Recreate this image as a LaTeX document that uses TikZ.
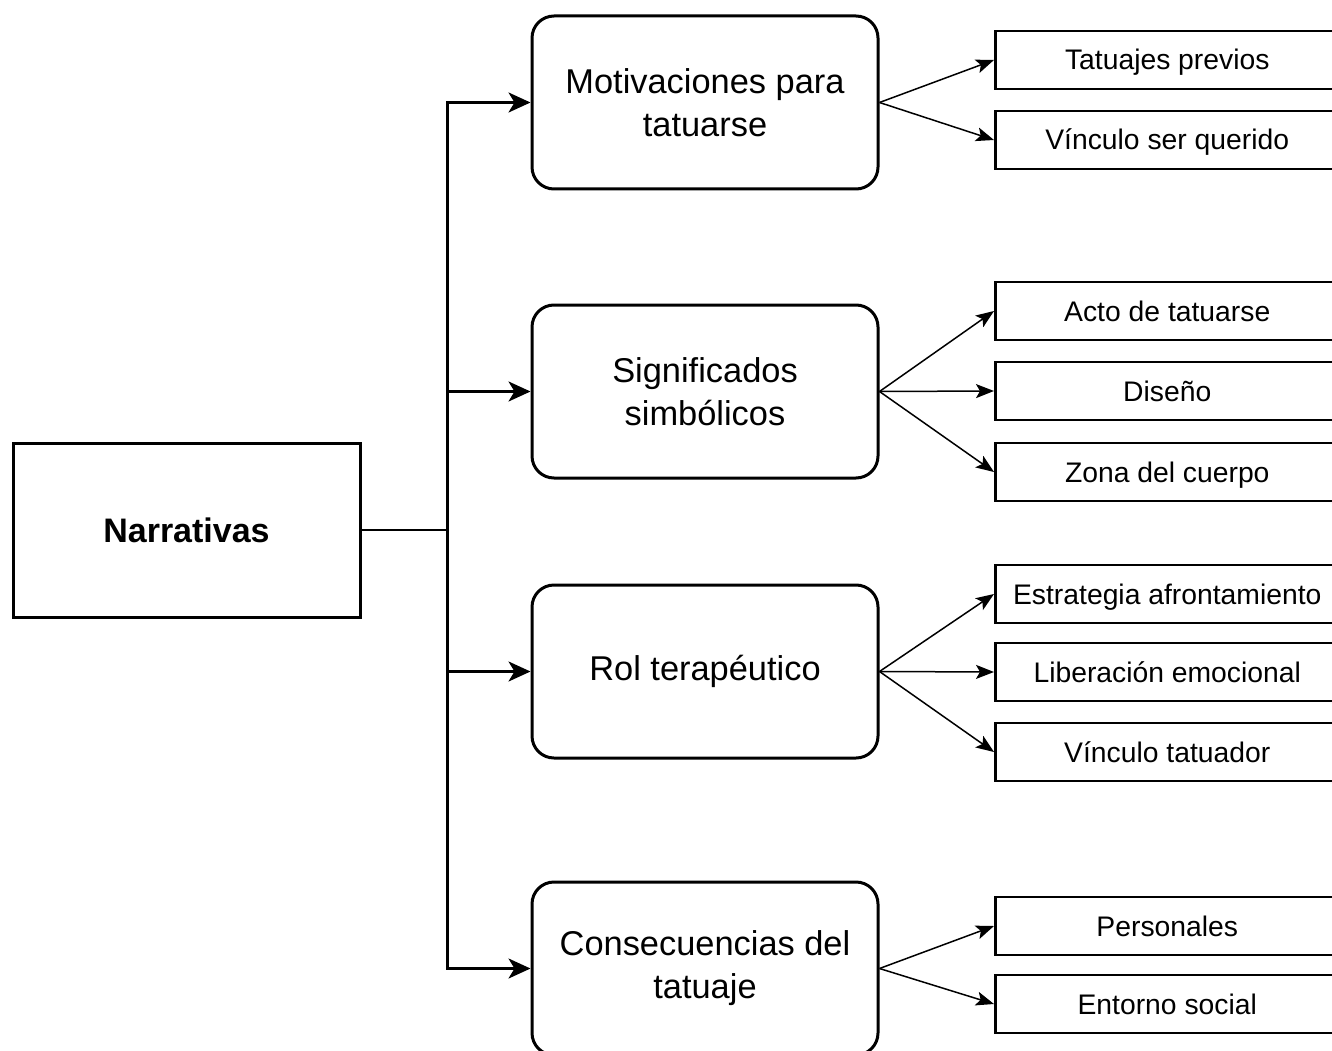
\documentclass[tikz,border=0pt]{standalone}
\usepackage{fontspec}
\setmainfont{Liberation Sans}
\usetikzlibrary{
    arrows.meta,
    positioning,
    calc
}
\definecolor{dark}{HTML}{000000}
\tikzset{
    % Root box
    root/.style={
        rectangle,
        minimum width=347pt,
        minimum height=174pt,
        align=center,
        font=\fontsize{34}{41}\selectfont\bfseries,
        draw=dark,
        line width=3pt
    },
    % Category box
    category/.style={
        rectangle,
        rounded corners=22pt,
        minimum width=346pt,
        minimum height=173pt,
        align=center,
        font=\fontsize{34.4}{43}\selectfont,
        draw=dark,
        line width=3pt
    },
    % Subcategory box
    subcat/.style={
        rectangle,
        anchor=west,
        inner sep=0pt,
        minimum width=344pt,
        minimum height=58pt,
        text height=23pt,
        text depth=3pt,
        font=\fontsize{28.3}{34}\selectfont,
        draw=dark,
        line width=2.5pt
    },
    % Arrow styles
    trunk/.style={
        line width=2.5pt,
        color=dark
    },
    branch/.style={
        -{Stealth[length=22pt, width=20pt, inset=6pt]},
        line width=2.5pt,
        color=dark
    },
    leaf/.style={
        -{Stealth[length=18pt, width=14pt, inset=4pt]},
        line width=1.5pt,
        color=dark
    }
}
\begin{document}
\begin{tikzpicture}[x=1pt, y=-1pt]
    \useasboundingbox (0,0) rectangle (1332,1051);

    % Root and categories
    \node[root] (narr) at (186.5,530) {Narrativas};
    \node[category] (motiv) at (705,102.5) {Motivaciones para\\tatuarse};
    \node[category] (signif) at (705,391.5) {Significados\\simbólicos};
    \node[category] (rol) at (705,671.5) {Rol terapéutico};
    \node[category] (conseq) at (705,968.5) {Consecuencias del\\tatuaje};

    % Subcategories
    \node[subcat] (previos) at (994,60) {Tatuajes previos};
    \node[subcat] (querido) at (994,140) {Vínculo ser querido};
    \node[subcat] (acto) at (994,311) {Acto de tatuarse};
    \node[subcat] (diseno) at (994,391) {Diseño};
    \node[subcat] (zona) at (994,472) {Zona del cuerpo};
    \node[subcat] (estrat) at (994,594) {Estrategia afrontamiento};
    \node[subcat] (liber) at (994,672) {Liberación emocional};
    \node[subcat] (tatuador) at (994,752) {Vínculo tatuador};
    \node[subcat] (personal) at (994,926) {Personales};
    \node[subcat] (social) at (994,1004) {Entorno social};

    % Trunk
    \draw[trunk] (narr.east) -- ++(86,0) coordinate (jn);
    \draw[trunk, line cap=rect] (jn |- motiv.west) -- (jn |- conseq.west);
    \foreach \cat in {motiv, signif, rol, conseq}
        \draw[branch] (jn |- \cat.west) -- (\cat.west);

    % Leaves
    \foreach \from/\to in {motiv/previos, motiv/querido,
                           signif/acto, signif/diseno, signif/zona,
                           rol/estrat, rol/liber, rol/tatuador,
                           conseq/personal, conseq/social}
        \draw[leaf] (\from.east) -- (\to.west);
\end{tikzpicture}
\end{document}
